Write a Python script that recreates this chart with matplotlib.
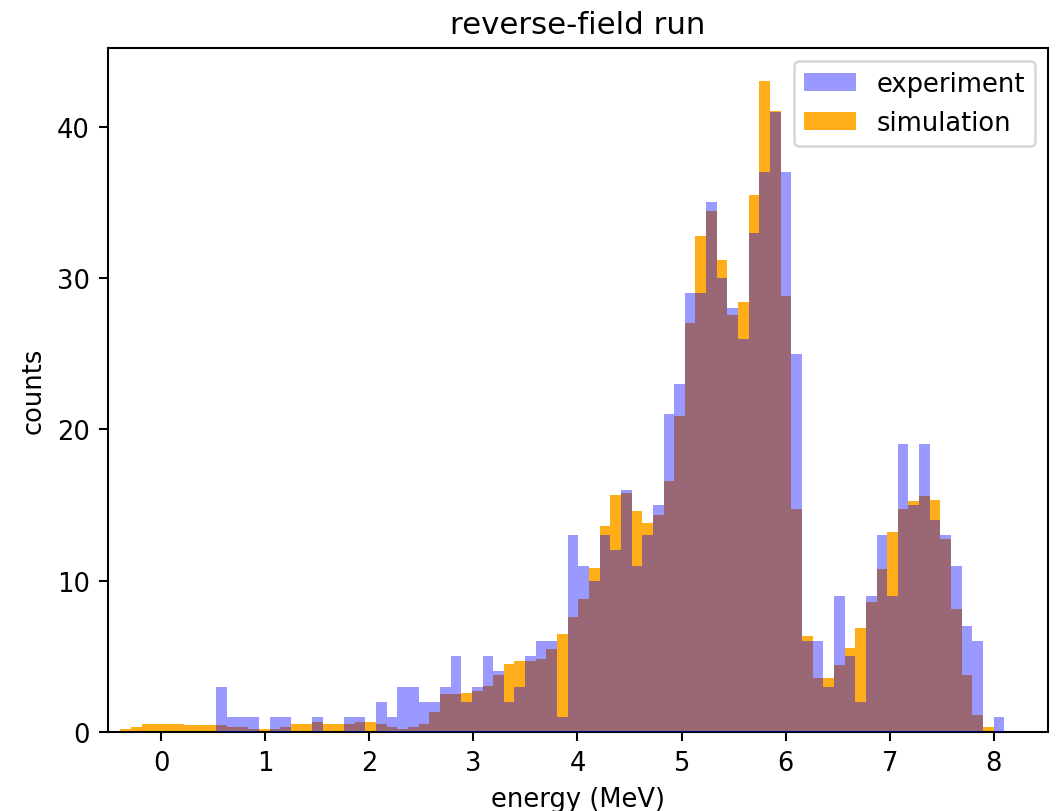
import numpy as np
import matplotlib.pyplot as plt

# shared bin edges (83 bins)
bin_edges = np.linspace(-0.39, 8.10, 84)
x_ticks = [0, 1, 2, 3, 4, 5, 6, 7, 8]

experiment = [
    0, 0, 0, 0, 0, 0, 0, 0, 0, 3,
    1, 1, 1, 0, 1, 1, 0, 0, 1, 0,
    0, 1, 1, 0, 2, 1, 3, 3, 2, 2,
    3, 5, 2, 3, 5, 4, 2, 3, 5, 6,
    6, 1, 13, 11, 10, 13, 12, 16, 11, 13,
    15, 21, 23, 29, 29, 35, 30, 28, 26, 33,
    37, 41, 37, 25, 6, 6, 3, 9, 5, 2,
    9, 13, 9, 19, 15, 19, 14, 13, 11, 7,
    6, 0, 1,
]

simulation = [
    0.2, 0.32, 0.55, 0.55, 0.55, 0.55, 0.43, 0.43, 0.43, 0.43,
    0.32, 0.32, 0.2, 0.2, 0.2, 0.32, 0.55, 0.55, 0.65, 0.55,
    0.55, 0.55, 0.68, 0.68, 0.55, 0.33, 0.22, 0.33, 0.55, 1.3,
    2.5, 2.5, 2.6, 2.7, 3.07, 3.78, 4.5, 4.72, 4.66, 4.82,
    5.5, 6.48, 7.58, 8.79, 10.87, 13.6, 15.69, 15.8, 14.6, 13.78,
    14.37, 16.57, 20.85, 27.06, 32.8, 34.4, 31.2, 27.55, 28.4, 35.5,
    43.05, 41.07, 28.8, 14.72, 6.37, 3.6, 3.6, 4.45, 5.55, 6.9,
    8.62, 10.77, 13.23, 14.72, 15.25, 15.58, 15.32, 12.75, 8.14, 3.74,
    1.15, 0.33, 0.0,
]

centers = (bin_edges[:-1] + bin_edges[1:]) / 2

fig, ax = plt.subplots(figsize=(1056 / 185, 812 / 185), dpi=185)
fig.subplots_adjust(left=108 / 1056, right=1048 / 1056, top=1 - 49 / 812, bottom=1 - 733 / 812)

# experiment drawn on top of simulation, but listed first in legend
ax.hist(centers, bins=bin_edges, weights=experiment, color="blue", alpha=0.4,
        label="experiment", zorder=3)
ax.hist(centers, bins=bin_edges, weights=simulation, color="orange", alpha=0.9,
        label="simulation", zorder=2)

ax.set_xlim(-0.51, 8.52)
ax.set_xticks(x_ticks)
ax.set_xlabel("energy (MeV)")
ax.set_ylabel("counts")
ax.set_title("reverse-field run")
ax.legend(loc="upper right")

fig.savefig("out.png", dpi=185)
